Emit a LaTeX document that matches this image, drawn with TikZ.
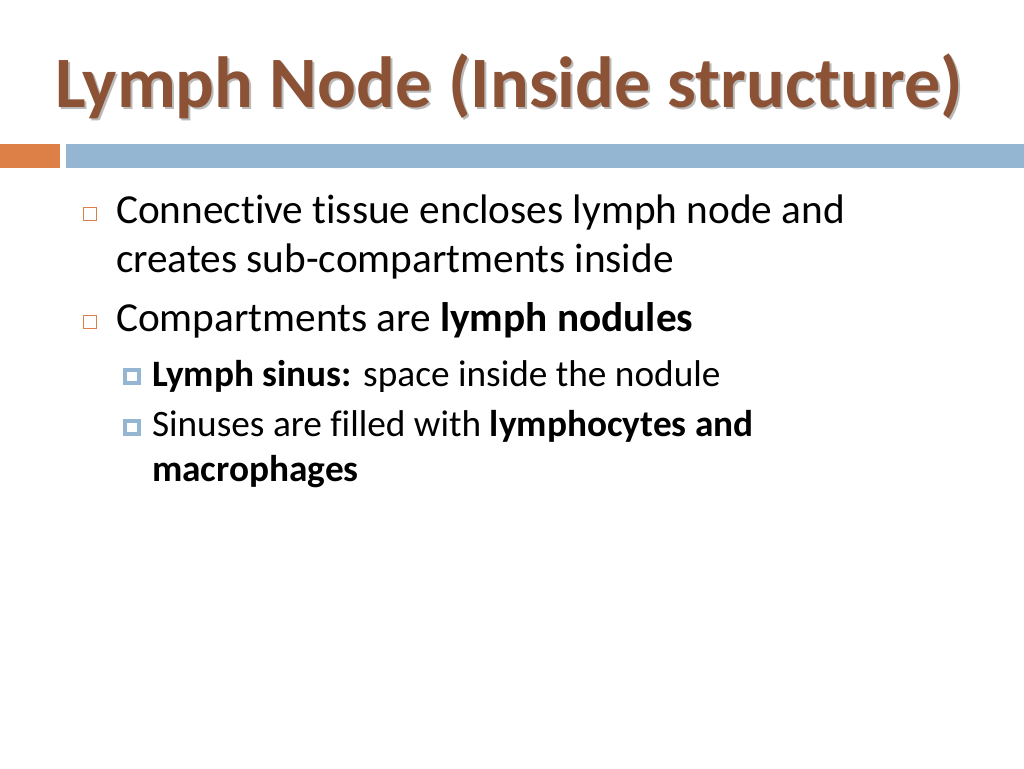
\documentclass[tikz,border=0pt]{standalone}
\usepackage{fontspec}
\setmainfont{Carlito}[Ligatures=NoCommon]
\definecolor{titlebrown}{HTML}{8C5236}
\definecolor{barorange}{HTML}{DD8047}
\definecolor{barblue}{HTML}{94B6D2}
\tikzset{
  txt/.style={anchor=base west, inner sep=0pt, outer sep=0pt, text=black},
  lone/.style={txt, font=\fontsize{41.3}{48}\selectfont},
  ltwo/.style={txt, font=\fontsize{37.3}{44}\selectfont},
  boxone/.style={draw=barorange, line width=1.4pt, fill=white},
  boxtwo/.style={draw=barblue, line width=4.5pt, fill=white},
}
\begin{document}
\begin{tikzpicture}[x=1pt,y=-1pt]
\useasboundingbox (0,0) rectangle (1024,768);
\fill[white] (0,0) rectangle (1024,768);
% title
\node[txt, font=\bfseries\fontsize{72.4}{80}\selectfont, text=black!45, opacity=0.6] (titleshadow) at (57,109) {Lymph Node (Inside structure)};
\node[txt, font=\bfseries\fontsize{72.4}{80}\selectfont, text=titlebrown] (title) at (55,107) {Lymph Node (Inside structure)};
% bars
\fill[barorange] (0,144) rectangle (60,168);
\fill[barblue] (66,144) rectangle (1024,168);
% level one bullets
\draw[boxone] (83.5,207.5) rectangle (96.5,220.5);
\node[lone] (l1) at (116,223) {Connective tissue encloses lymph node and};
\node[lone] (l2) at (116,272) {creates sub-compartments inside};
\draw[boxone] (83.5,315.5) rectangle (96.5,328.5);
\node[lone] (l3) at (116,331) {Compartments are \textbf{lymph nodules}};
% level two bullets
\draw[boxtwo] (125,370) rectangle (139,383);
\node[ltwo] (l4) at (152,386) {\textbf{Lymph sinus:} space inside the nodule};
\draw[boxtwo] (125,421) rectangle (139,434);
\node[ltwo] (l5) at (152,436) {Sinuses are filled with \textbf{lymphocytes and}};
\node[ltwo] (l6) at (152,481) {\textbf{macrophages}};
\end{tikzpicture}
\end{document}
